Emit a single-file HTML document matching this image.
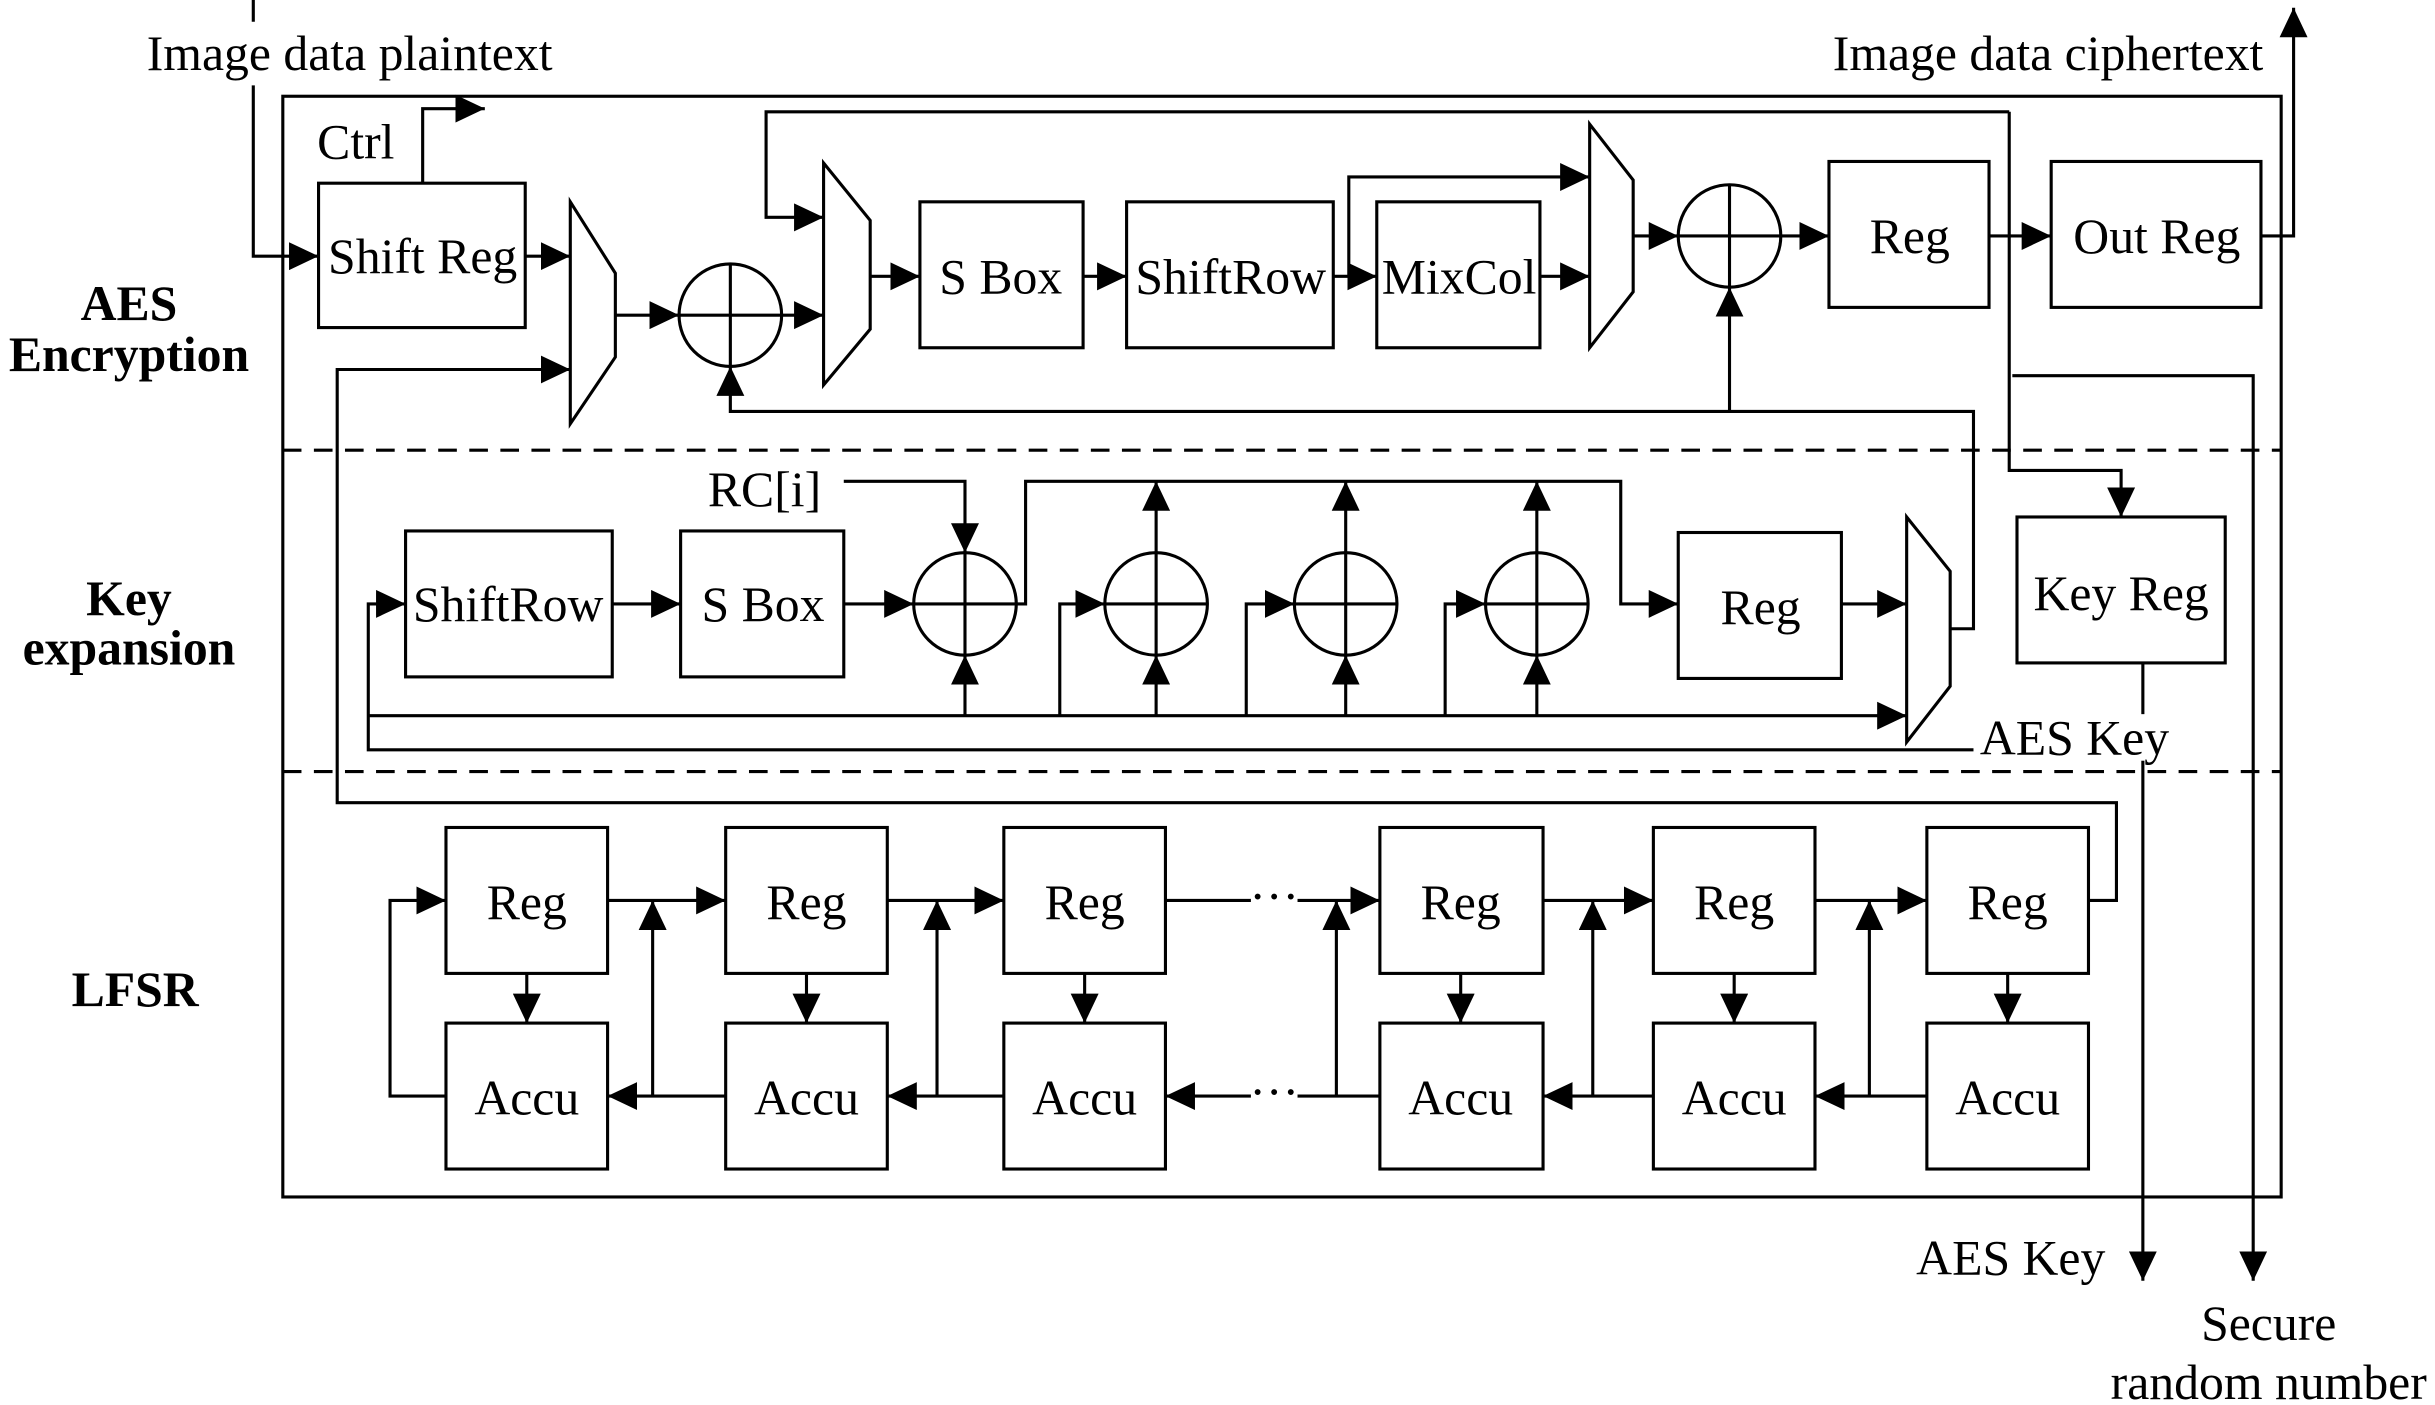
<!DOCTYPE html>
<html><head><meta charset="utf-8"><style>
html,body{margin:0;padding:0;background:#fff;}
svg{display:block;}
text{font-family:"Liberation Serif",serif;font-size:32px;fill:#000;}
.b{font-weight:bold;font-size:32px;}
</style></head><body>
<svg width="2435" height="1405" viewBox="0 0 1567 905" preserveAspectRatio="none" xmlns="http://www.w3.org/2000/svg">
<defs>
<marker id="a" viewBox="0 0 10 10" refX="10" refY="5" markerWidth="19" markerHeight="18" markerUnits="userSpaceOnUse" orient="auto" preserveAspectRatio="none"><path d="M0,0L10,5L0,10z" fill="#000"/></marker>
</defs>
<g fill="none" stroke="#000" stroke-width="2">
<rect x="182" y="62" width="1286" height="709"/>
<line x1="182" y1="290" x2="1468" y2="290" stroke-dasharray="12,8"/>
<line x1="182" y1="497" x2="1468" y2="497" stroke-dasharray="12,8"/>
<rect x="205" y="118" width="133" height="93"/>
<rect x="592" y="130" width="105" height="94"/>
<rect x="725" y="130" width="133" height="94"/>
<rect x="886" y="130" width="105" height="94"/>
<rect x="1177" y="104" width="103" height="94"/>
<rect x="1320" y="104" width="135" height="94"/>
<path d="M367,130 L396,176 L396,230 L367,273 Z"/>
<path d="M530,105 L560,142 L560,212 L530,248 Z"/>
<path d="M1023,80 L1051,116 L1051,188 L1023,224 Z"/>
<circle cx="470" cy="203" r="33"/><path d="M437,203H503M470,170V236"/>
<circle cx="1113" cy="152" r="33"/><path d="M1080,152H1146M1113,119V185"/>
<path d="M163,0V14M163,55V165H205" marker-end="url(#a)"/>
<path d="M272,118V70H312" marker-end="url(#a)"/>
<path d="M338,165H367" marker-end="url(#a)"/>
<path d="M396,203H437" marker-end="url(#a)"/>
<path d="M503,203H530" marker-end="url(#a)"/>
<path d="M560,178H592" marker-end="url(#a)"/>
<path d="M697,178H725" marker-end="url(#a)"/>
<path d="M858,178H886" marker-end="url(#a)"/>
<path d="M868,178V114H1023" marker-end="url(#a)"/>
<path d="M991,178H1023" marker-end="url(#a)"/>
<path d="M1051,152H1080" marker-end="url(#a)"/>
<path d="M1146,152H1177" marker-end="url(#a)"/>
<path d="M1280,152H1320" marker-end="url(#a)"/>
<path d="M1455,152H1476V5" marker-end="url(#a)"/>
<path d="M1293,72H493V140H530" marker-end="url(#a)"/>
<path d="M1293,72V303H1365V333" marker-end="url(#a)"/>
<path d="M1295,242H1450V825" marker-end="url(#a)"/>
<path d="M1255,405H1270V265H470V236" marker-end="url(#a)"/>
<path d="M1113,265V185" marker-end="url(#a)"/>
<path d="M1344,580H1362V517H217V238H367" marker-end="url(#a)"/>
<rect x="261" y="342" width="133" height="94"/>
<rect x="438" y="342" width="105" height="94"/>
<rect x="1080" y="343" width="105" height="94"/>
<rect x="1298" y="333" width="134" height="94"/>
<path d="M1227,333 L1255,368 L1255,442 L1227,478 Z"/>
<circle cx="621" cy="389" r="33"/><path d="M588,389H654M621,356V422"/>
<circle cx="744" cy="389" r="33"/><path d="M711,389H777M744,356V422"/>
<circle cx="866" cy="389" r="33"/><path d="M833,389H899M866,356V422"/>
<circle cx="989" cy="389" r="33"/><path d="M956,389H1022M989,356V422"/>
<path d="M394,389H438" marker-end="url(#a)"/>
<path d="M543,389H588" marker-end="url(#a)"/>
<path d="M543,310H621V356" marker-end="url(#a)"/>
<path d="M654,389H660V310H1043V389H1080" marker-end="url(#a)"/>
<path d="M744,356V310" marker-end="url(#a)"/>
<path d="M866,356V310" marker-end="url(#a)"/>
<path d="M989,356V310" marker-end="url(#a)"/>
<path d="M682,461V389H711" marker-end="url(#a)"/>
<path d="M802,461V389H833" marker-end="url(#a)"/>
<path d="M930,461V389H956" marker-end="url(#a)"/>
<path d="M621,461V422" marker-end="url(#a)"/>
<path d="M744,461V422" marker-end="url(#a)"/>
<path d="M866,461V422" marker-end="url(#a)"/>
<path d="M989,461V422" marker-end="url(#a)"/>
<path d="M237,461H1227" marker-end="url(#a)"/>
<path d="M1270,483H237V389H261" marker-end="url(#a)"/>
<path d="M1185,389H1227" marker-end="url(#a)"/>
<path d="M1379,427V825" marker-end="url(#a)"/>
<rect x="287" y="533" width="104" height="94"/>
<rect x="467" y="533" width="104" height="94"/>
<rect x="646" y="533" width="104" height="94"/>
<rect x="888" y="533" width="105" height="94"/>
<rect x="1064" y="533" width="104" height="94"/>
<rect x="1240" y="533" width="104" height="94"/>
<rect x="287" y="659" width="104" height="94"/>
<rect x="467" y="659" width="104" height="94"/>
<rect x="646" y="659" width="104" height="94"/>
<rect x="888" y="659" width="105" height="94"/>
<rect x="1064" y="659" width="104" height="94"/>
<rect x="1240" y="659" width="104" height="94"/>
<path d="M339,627V659" marker-end="url(#a)"/>
<path d="M519,627V659" marker-end="url(#a)"/>
<path d="M698,627V659" marker-end="url(#a)"/>
<path d="M940,627V659" marker-end="url(#a)"/>
<path d="M1116,627V659" marker-end="url(#a)"/>
<path d="M1292,627V659" marker-end="url(#a)"/>
<path d="M391,580H467" marker-end="url(#a)"/>
<path d="M571,580H646" marker-end="url(#a)"/>
<path d="M750,580H805"/>
<path d="M835,580H888" marker-end="url(#a)"/>
<path d="M993,580H1064" marker-end="url(#a)"/>
<path d="M1168,580H1240" marker-end="url(#a)"/>
<path d="M1240,706H1168" marker-end="url(#a)"/>
<path d="M1064,706H993" marker-end="url(#a)"/>
<path d="M888,706H835"/>
<path d="M805,706H750" marker-end="url(#a)"/>
<path d="M646,706H571" marker-end="url(#a)"/>
<path d="M467,706H391" marker-end="url(#a)"/>
<path d="M287,706H251V580H287" marker-end="url(#a)"/>
<path d="M420,706V580" marker-end="url(#a)"/>
<path d="M603,706V580" marker-end="url(#a)"/>
<path d="M860,706V580" marker-end="url(#a)"/>
<path d="M1025,706V580" marker-end="url(#a)"/>
<path d="M1203,706V580" marker-end="url(#a)"/>
</g>
<rect x="1272" y="460" width="128" height="30" fill="#fff"/>
<g text-anchor="middle">
<text x="225" y="45">Image data plaintext</text>
<text x="1318" y="45">Image data ciphertext</text>
<text x="229" y="102">Ctrl</text>
<text x="272" y="176">Shift Reg</text>
<text x="644" y="189">S Box</text>
<text x="792" y="189">ShiftRow</text>
<text x="939" y="189">MixCol</text>
<text x="1229" y="163">Reg</text>
<text x="1388" y="163">Out Reg</text>
<text x="492" y="326">RC[i]</text>
<text x="327" y="400">ShiftRow</text>
<text x="491" y="400">S Box</text>
<text x="1133" y="402">Reg</text>
<text x="1365" y="393">Key Reg</text>
<text x="1335" y="486">AES Key</text>
<text x="1294" y="821">AES Key</text>
<text x="1460" y="863">Secure</text>
<text x="1460" y="901">random number</text>
<text x="820" y="588">···</text>
<text x="820" y="714">···</text>
<text x="339" y="592">Reg</text><text x="519" y="592">Reg</text><text x="698" y="592">Reg</text>
<text x="940" y="592">Reg</text><text x="1116" y="592">Reg</text><text x="1292" y="592">Reg</text>
<text x="339" y="718">Accu</text><text x="519" y="718">Accu</text><text x="698" y="718">Accu</text>
<text x="940" y="718">Accu</text><text x="1116" y="718">Accu</text><text x="1292" y="718">Accu</text>
<text class="b" x="83" y="206">AES</text>
<text class="b" x="83" y="239">Encryption</text>
<text class="b" x="83" y="396">Key</text>
<text class="b" x="83" y="428">expansion</text>
<text class="b" x="87" y="648">LFSR</text>
</g>
</svg>
</body></html>
